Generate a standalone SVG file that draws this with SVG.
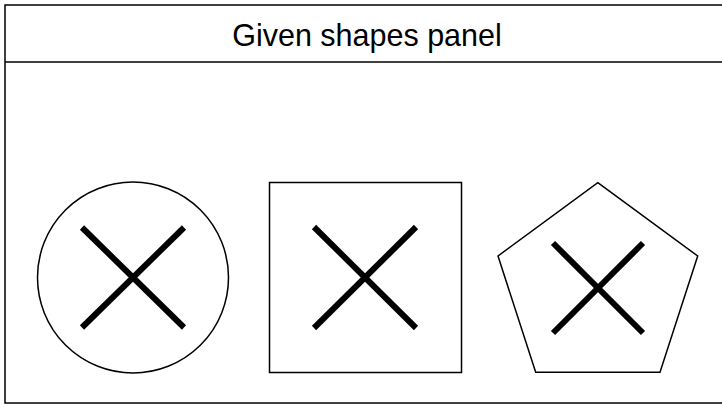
<svg xmlns="http://www.w3.org/2000/svg" width="722" height="404" viewBox="0 0 722 404">
<style>
.o{fill:none;stroke:#000;stroke-width:1.5}
.s{fill:none;stroke:#000;stroke-width:1.5}
.x{stroke:#000;stroke-width:6}
.t{font-family:"Liberation Sans",Arial,sans-serif;font-size:30.5px;fill:#000}
</style>
<rect width="722" height="404" fill="#fff"/>
<g id="panel">
<rect class="o" x="5" y="5" width="740" height="398"/>
<line class="o" x1="5" y1="62" x2="722" y2="62"/>
<text class="t" x="367" y="46" text-anchor="middle">Given shapes panel</text>
</g>
<g id="circle">
<circle class="s" cx="133" cy="277.5" r="95.5"/>
<line class="x" x1="82" y1="227.5" x2="184" y2="327.5"/>
<line class="x" x1="184" y1="227.5" x2="82" y2="327.5"/>
</g>
<g id="square">
<rect class="s" x="269.5" y="182.5" width="192" height="190"/>
<line class="x" x1="314" y1="227" x2="416" y2="328"/>
<line class="x" x1="416" y1="227" x2="314" y2="328"/>
</g>
<g id="pentagon">
<polygon class="s" points="597.8,182.7 697.7,256 660,372.3 535.7,372.3 498,256"/>
<line class="x" x1="553" y1="243" x2="643" y2="333"/>
<line class="x" x1="643" y1="243" x2="553" y2="333"/>
</g>
<g id="connectors"></g>
</svg>
